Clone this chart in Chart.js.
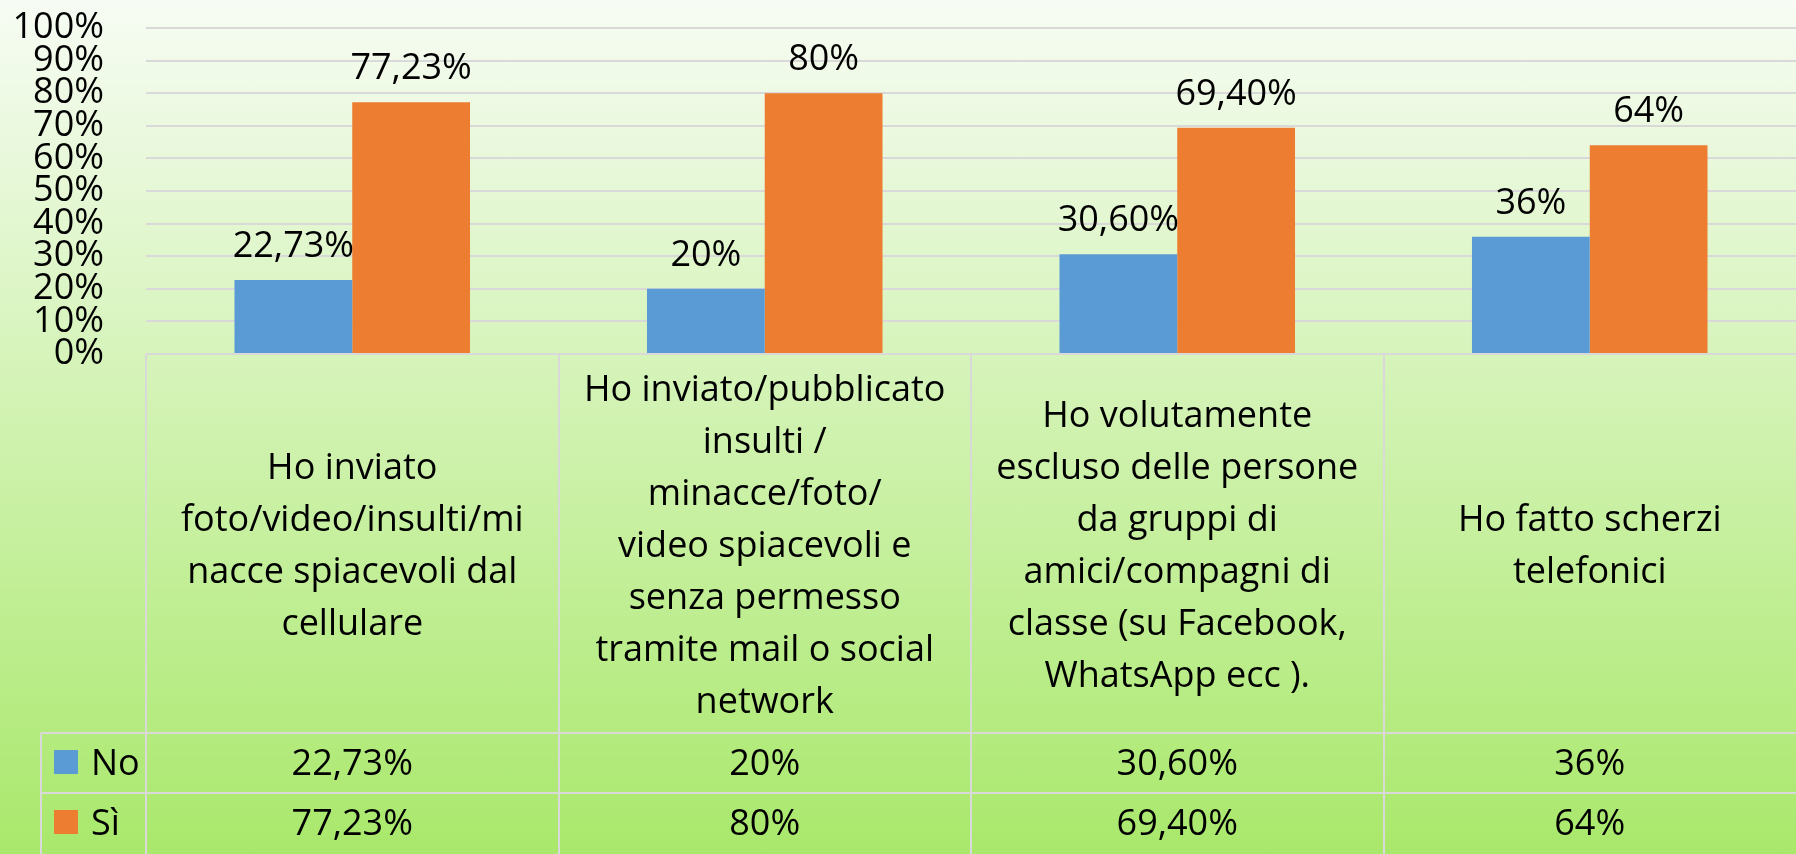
<!DOCTYPE html>
<html>
<head>
<meta charset="utf-8">
<script src="https://cdn.jsdelivr.net/npm/chart.js@4/dist/chart.umd.min.js"></script>
<style>
html, body { margin: 0; padding: 0; width: 1796px; height: 854px; overflow: hidden; }
body { background: linear-gradient(180deg, #f7fcf4 0%, #a9e86b 100%); }
#wrap { position: relative; width: 1796px; height: 854px; }
canvas { display: block; }
</style>
</head>
<body>
<div id="wrap"><canvas id="c" width="1796" height="854"></canvas></div>
<script>
// ---- data ----
const categories = [
  ["Ho inviato", "foto/video/insulti/mi", "nacce spiacevoli dal", "cellulare"],
  ["Ho inviato/pubblicato", "insulti /", "minacce/foto/", "video spiacevoli e", "senza permesso", "tramite mail o social", "network"],
  ["Ho volutamente", "escluso delle persone", "da gruppi di", "amici/compagni di", "classe (su Facebook,", "WhatsApp ecc )."],
  ["Ho fatto scherzi", "telefonici"]
];
const seriesNames = ["No", "Sì"];
const noValues = [22.73, 20, 30.6, 36];
const siValues = [77.23, 80, 69.4, 64];
const seriesColors = ["#5b9bd5", "#ed7d31"];
const yTickValues = [0, 10, 20, 30, 40, 50, 60, 70, 80, 90, 100];

function fmt(v) {
  return (Number.isInteger(v) ? String(v) : v.toFixed(2).replace('.', ',')) + '%';
}

const FAMILY = '"Open Sans", Lato, sans-serif';
const FONT = '36px ' + FAMILY;
const GRID = '#d9d9d9';

const barLabels = {
  id: 'barLabels',
  afterDatasetsDraw(chart) {
    const ctx = chart.ctx;
    ctx.save();
    ctx.font = FONT;
    ctx.fillStyle = '#000';
    ctx.textAlign = 'center';
    ctx.textBaseline = 'alphabetic';
    chart.data.datasets.forEach((ds, di) => {
      const meta = chart.getDatasetMeta(di);
      meta.data.forEach((bar, i) => {
        ctx.fillText(fmt(ds.data[i]), bar.x, bar.y - 23);
      });
    });
    ctx.restore();
  }
};

const dataTable = {
  id: 'dataTable',
  afterDraw(chart) {
    const ctx = chart.ctx;
    const area = chart.chartArea;
    const xs = chart.scales.x;
    const n = chart.data.labels.length;
    const colW = (area.right - area.left) / n;
    const top = area.bottom;
    const headerBottom = top + 379;
    const rowH = 60;
    const bottom = chart.height;
    const legendLeft = 41;
    ctx.save();
    ctx.strokeStyle = GRID;
    ctx.lineWidth = 2;
    ctx.beginPath();
    for (let i = 0; i < n; i++) {
      const x = Math.round(area.left + i * colW);
      ctx.moveTo(x, top); ctx.lineTo(x, bottom);
    }
    ctx.moveTo(legendLeft, headerBottom); ctx.lineTo(area.right, headerBottom);
    ctx.moveTo(legendLeft, headerBottom + rowH); ctx.lineTo(area.right, headerBottom + rowH);
    ctx.moveTo(legendLeft, headerBottom); ctx.lineTo(legendLeft, bottom);
    ctx.stroke();

    ctx.font = FONT;
    ctx.fillStyle = '#000';
    ctx.textAlign = 'center';
    ctx.textBaseline = 'alphabetic';
    const lh = 52;
    const cy = (top + headerBottom) / 2;
    chart.data.labels.forEach((lines, i) => {
      const cx = xs.getPixelForValue(i);
      const first = cy - ((lines.length - 1) * lh) / 2 + 13;
      lines.forEach((line, k) => ctx.fillText(line, cx, first + k * lh));
    });
    chart.data.datasets.forEach((ds, di) => {
      const rowTop = headerBottom + di * rowH;
      const base = rowTop + 42;
      ctx.fillStyle = ds.backgroundColor;
      ctx.fillRect(54, rowTop + 17, 24, 24);
      ctx.fillStyle = '#000';
      ctx.textAlign = 'left';
      ctx.fillText(ds.label, 91, base);
      ctx.textAlign = 'center';
      ds.data.forEach((v, i) => {
        ctx.fillText(fmt(v), xs.getPixelForValue(i), base);
      });
    });
    ctx.restore();
  }
};

function build() {
  new Chart(document.getElementById('c'), {
    type: 'bar',
    data: {
      labels: categories,
      datasets: [
        { label: seriesNames[0], data: noValues, backgroundColor: seriesColors[0] },
        { label: seriesNames[1], data: siValues, backgroundColor: seriesColors[1] }
      ]
    },
    options: {
      responsive: false,
      animation: false,
      events: [],
      layout: { padding: { top: 28, bottom: 500, left: 0, right: 0 } },
      datasets: { bar: { categoryPercentage: 0.571, barPercentage: 1.0 } },
      plugins: { legend: { display: false }, tooltip: { enabled: false } },
      scales: {
        x: { display: false },
        y: {
          min: 0, max: 100,
          afterFit(scale) { scale.width = 146; },
          afterBuildTicks(scale) { scale.ticks = yTickValues.map(v => ({ value: v })); },
          ticks: {
            autoSkip: false,
            padding: 0,
            color: '#000',
            font: { family: FAMILY, size: 36 },
            callback: v => v + '%'
          },
          grid: { color: GRID, lineWidth: 2, drawTicks: true, tickLength: 42, tickColor: 'rgba(0,0,0,0)' },
          border: { display: false }
        }
      }
    },
    plugins: [barLabels, dataTable]
  });
}

const fontReady = (document.fonts && document.fonts.load) ? document.fonts.load(FONT) : Promise.resolve();
Promise.race([fontReady, new Promise(r => setTimeout(r, 1500))]).then(build, build);
</script>
</body>
</html>
